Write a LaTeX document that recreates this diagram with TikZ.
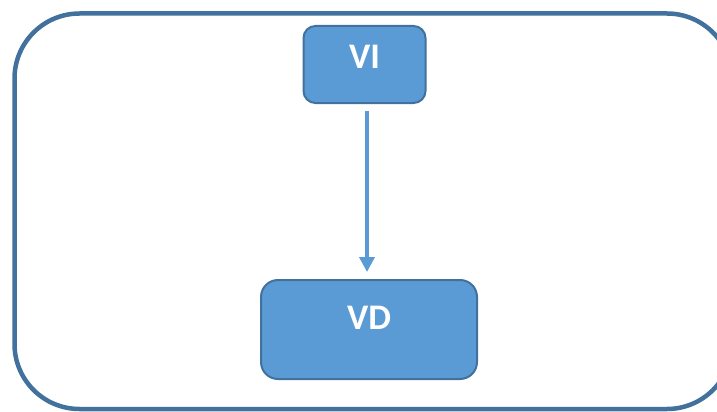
\documentclass[tikz,border=0pt]{standalone}
\usepackage{fontspec}
\setmainfont{Carlito}
\usetikzlibrary{positioning}
\usetikzlibrary{arrows.meta}
\definecolor{BLUE_FILL}{HTML}{5B9BD5}
\definecolor{BLUE_LINE}{HTML}{41719C}
\tikzset{
	every node/.style = {font=\fontsize{36}{40}\selectfont\bfseries, text=white},
	varbox/.style = {draw=BLUE_LINE, fill=BLUE_FILL, line width=2pt, inner sep=0pt},
	flow/.style = {draw=BLUE_FILL, line width=3.5pt, -{Triangle[width=15pt, length=15pt]}}
}
\begin{document}
\begin{tikzpicture}[x=1pt, y=-1pt]
		\useasboundingbox (0,0) rectangle (717,412);
		\clip (0,0) rectangle (717,412);
		% outline
		\draw[BLUE_LINE, line width=4.5pt, rounded corners=65pt] (14.5,13.5) rectangle (732,409);
		% variables
		\node[varbox, rounded corners=12pt, minimum width=122pt, minimum height=77pt,
		      text height=23pt, text depth=16pt] (vi) at (364.5,64.5) {VI};
		\node[varbox, rounded corners=17pt, minimum width=216pt, minimum height=99pt,
		      text height=24pt, text depth=25pt] (vd) at (369,329.5) {VD};
		% effect
		\draw[flow, shorten <=7pt, shorten >=7pt] ([xshift=2.5pt]vi.south) -- ([xshift=2.5pt]vi.south |- vd.north);
	\end{tikzpicture}
\end{document}
